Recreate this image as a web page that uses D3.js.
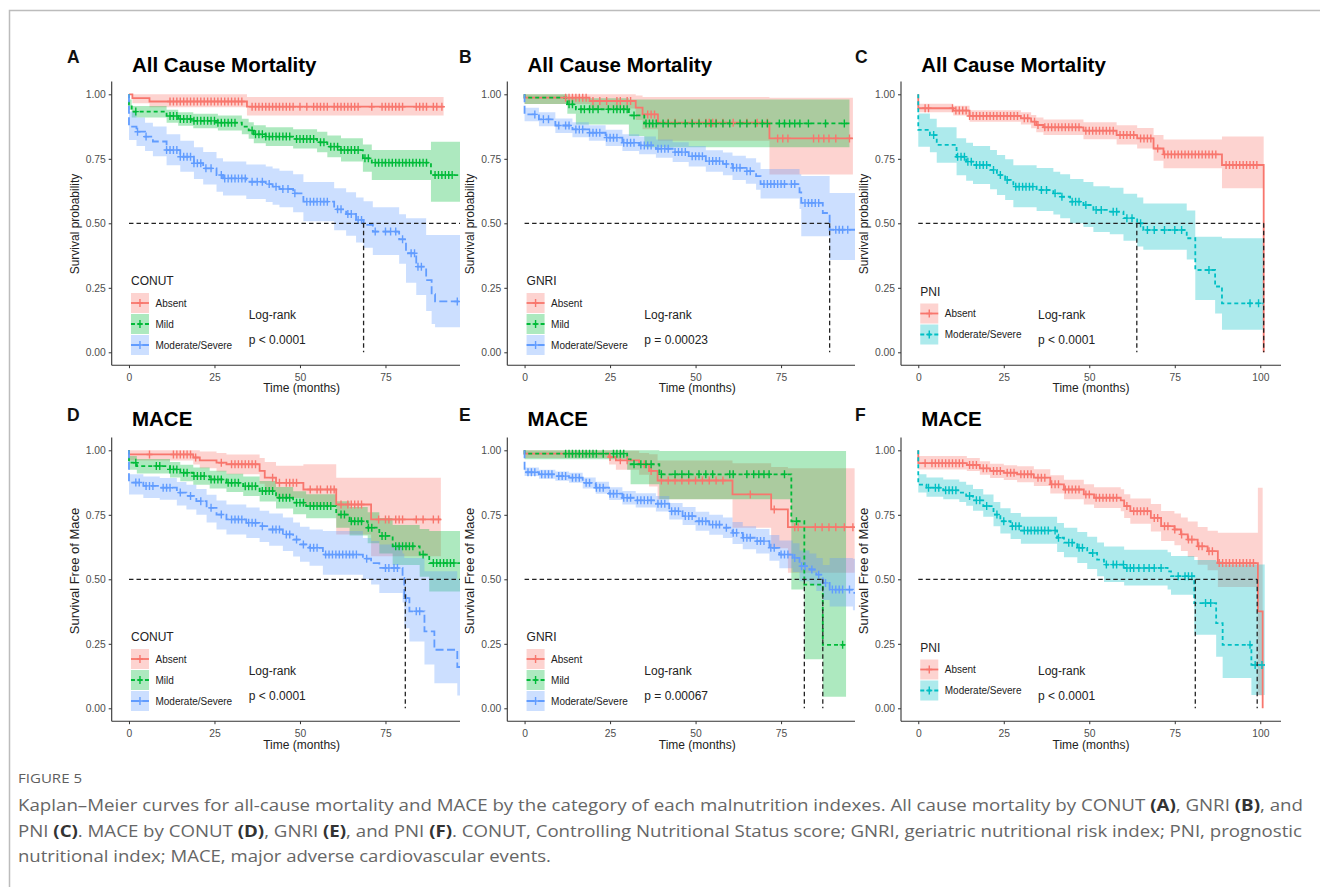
<!DOCTYPE html>
<html><head><meta charset="utf-8">
<script src="https://cdn.jsdelivr.net/npm/d3@7"></script>
<style>body{margin:0;background:#fff}svg{display:block}</style>
</head><body>
<svg id="fig" width="1320" height="887"></svg>
<script>
// ---------- DATA: step points [time, survival, lower CI, upper CI]; last row = end of follow-up ----------
const a_absent = [[0,1,1,1],[1,0.985,0.965,1],[6,0.972,0.95,1],[34.5,0.952,0.918,0.99],[92,0.952,0.918,0.99]];
const a_mild = [[0,1,1,1],[0,0.96,0.94,0.98],[0.8,0.933,0.91,0.955],[11,0.916,0.89,0.94],[14.4,0.904,0.878,0.93],[18.8,0.897,0.868,0.925],[26,0.89,0.86,0.918],[33,0.875,0.845,0.905],[35,0.86,0.828,0.892],[36.5,0.845,0.81,0.88],[40,0.836,0.8,0.872],[48,0.827,0.79,0.865],[55,0.814,0.775,0.855],[58,0.797,0.756,0.84],[62,0.784,0.74,0.83],[68.4,0.752,0.7,0.805],[71,0.735,0.668,0.784],[88.3,0.687,0.584,0.816],[101,0.687,0.584,0.816]];
const a_mod = [[0,1,1,1],[0,0.875,0.823,0.933],[2.2,0.855,0.8,0.91],[4.7,0.836,0.78,0.89],[7,0.817,0.76,0.875],[11,0.784,0.725,0.845],[15,0.758,0.7,0.82],[19,0.733,0.672,0.795],[21.7,0.713,0.65,0.776],[25.6,0.687,0.622,0.752],[27.5,0.674,0.608,0.74],[34.3,0.661,0.594,0.728],[40,0.652,0.583,0.72],[42,0.642,0.572,0.712],[44,0.633,0.562,0.704],[48,0.616,0.543,0.69],[51,0.584,0.508,0.66],[60,0.554,0.473,0.636],[63.5,0.536,0.452,0.62],[66.4,0.513,0.426,0.6],[68.6,0.494,0.405,0.585],[71.3,0.468,0.377,0.562],[79,0.438,0.343,0.535],[81,0.384,0.27,0.52],[84,0.332,0.222,0.52],[86.9,0.28,0.16,0.455],[88.5,0.225,0.11,0.455],[89.5,0.197,0.097,0.455],[101,0.197,0.097,0.455]];
const b_absent = [[0,1,1,1],[0,0.987,0.962,1],[19,0.974,0.945,1],[32.5,0.948,0.9,0.995],[34.5,0.922,0.865,0.99],[39,0.89,0.82,0.99],[71.6,0.829,0.689,0.987],[96,0.829,0.689,0.987]];
const b_mild = [[0,1,1,1],[0,0.987,0.962,1],[12.5,0.961,0.925,0.99],[15,0.942,0.883,0.985],[30.5,0.918,0.838,0.98],[35,0.887,0.795,0.98],[95,0.887,0.795,0.98]];
const b_mod = [[0,1,1,1],[0,0.922,0.896,0.948],[4.2,0.903,0.876,0.93],[9,0.879,0.85,0.906],[14,0.864,0.834,0.892],[18.8,0.851,0.82,0.88],[23.7,0.832,0.8,0.863],[28.6,0.812,0.78,0.845],[33.5,0.802,0.768,0.836],[38.4,0.789,0.754,0.825],[43.3,0.776,0.738,0.814],[48,0.76,0.72,0.8],[53,0.741,0.7,0.783],[58,0.73,0.686,0.774],[60.8,0.715,0.668,0.762],[64.7,0.702,0.653,0.752],[67.7,0.683,0.63,0.736],[69,0.652,0.596,0.71],[80.4,0.62,0.555,0.69],[80.9,0.579,0.45,0.683],[87.2,0.54,0.45,0.683],[89.2,0.475,0.358,0.617],[101,0.475,0.358,0.617]];
const c_absent = [[0,1,1,1],[0,0.946,0.93,0.963],[10.2,0.937,0.918,0.956],[15,0.916,0.894,0.938],[30,0.907,0.883,0.93],[33,0.894,0.868,0.92],[34.5,0.881,0.853,0.91],[36.6,0.872,0.842,0.902],[48.3,0.859,0.826,0.892],[58,0.842,0.805,0.88],[64,0.829,0.79,0.869],[68.8,0.79,0.742,0.842],[71.7,0.767,0.713,0.825],[88.8,0.726,0.636,0.836],[101,0,0,0],[101,0,0,0]];
const c_mod = [[0,1,1,1],[0,0.862,0.797,0.926],[3.4,0.842,0.775,0.905],[5.4,0.804,0.735,0.872],[11.2,0.758,0.686,0.83],[14,0.739,0.665,0.812],[16,0.726,0.652,0.8],[21,0.707,0.632,0.784],[23,0.687,0.61,0.765],[25.4,0.668,0.59,0.748],[27.8,0.642,0.562,0.725],[34.6,0.629,0.548,0.714],[39.5,0.616,0.534,0.7],[41.5,0.603,0.52,0.69],[44.4,0.584,0.5,0.672],[48.3,0.571,0.486,0.66],[51.2,0.552,0.466,0.644],[56,0.545,0.458,0.638],[60,0.52,0.432,0.615],[64,0.5,0.41,0.6],[65.8,0.474,0.397,0.577],[78.5,0.442,0.36,0.55],[81,0.319,0.203,0.448],[86.8,0.255,0.15,0.448],[88.8,0.19,0.087,0.442],[101,0.19,0.087,0.442]];
const d_absent = [[0,1,1,1],[0,0.984,0.96,1],[18.8,0.972,0.945,1],[20.7,0.961,0.93,0.995],[25.6,0.952,0.918,0.99],[28.5,0.946,0.907,0.984],[38.2,0.92,0.87,0.97],[39.7,0.894,0.84,0.955],[43,0.874,0.815,0.94],[51,0.848,0.784,0.946],[60.6,0.79,0.674,0.894],[70.8,0.732,0.589,0.894],[91.2,0.732,0.589,0.894]];
const d_mild = [[0,1,1,1],[0,0.952,0.925,0.978],[2.3,0.939,0.91,0.966],[12,0.926,0.895,0.955],[15,0.913,0.88,0.944],[18.8,0.9,0.866,0.933],[23.6,0.887,0.852,0.921],[28.5,0.874,0.838,0.909],[33.4,0.861,0.823,0.898],[38.2,0.842,0.802,0.881],[43,0.816,0.774,0.858],[48,0.797,0.752,0.841],[51.8,0.784,0.737,0.83],[60.6,0.751,0.7,0.803],[64.5,0.725,0.67,0.78],[69.8,0.7,0.64,0.76],[73.2,0.668,0.6,0.738],[77.1,0.628,0.555,0.71],[85,0.596,0.51,0.695],[87.8,0.563,0.453,0.687],[101,0.563,0.453,0.687]];
const d_mod = [[0,1,1,1],[0,0.875,0.829,0.907],[4.2,0.862,0.815,0.898],[9,0.855,0.808,0.893],[14,0.836,0.786,0.877],[16.8,0.823,0.771,0.866],[19.7,0.803,0.75,0.85],[22.7,0.777,0.72,0.828],[25.6,0.751,0.693,0.805],[28.5,0.732,0.674,0.79],[34.3,0.719,0.66,0.778],[38.2,0.706,0.645,0.766],[41,0.693,0.63,0.755],[45,0.674,0.61,0.74],[48,0.654,0.588,0.72],[50,0.635,0.568,0.704],[52.8,0.622,0.553,0.693],[56.7,0.596,0.518,0.687],[68.4,0.58,0.5,0.66],[70.8,0.563,0.48,0.648],[73.2,0.544,0.447,0.635],[80,0.505,0.41,0.6],[80.5,0.427,0.31,0.583],[82,0.376,0.259,0.583],[86.4,0.298,0.17,0.531],[89.3,0.227,0.097,0.531],[96,0.16,0.05,0.5],[101,0.16,0.05,0.5]];
const e_absent = [[0,1,1,1],[0,0.987,0.97,1],[24.7,0.974,0.945,1],[26.7,0.961,0.925,0.998],[33.5,0.946,0.905,0.99],[36.4,0.92,0.86,0.985],[38.9,0.883,0.81,0.96],[60.8,0.829,0.7,0.95],[72.1,0.771,0.62,0.935],[77,0.702,0.525,0.93],[96.5,0.702,0.525,0.93]];
const e_mild = [[0,1,1,1],[0,0.987,0.965,1],[30,0.965,0.925,1],[31,0.946,0.868,1],[39.4,0.907,0.81,0.997],[78,0.725,0.46,0.997],[81.8,0.479,0.19,0.997],[87.2,0.246,0.045,0.997],[94,0.246,0.045,0.997]];
const e_mod = [[0,1,1,1],[0,0.915,0.9,0.933],[4.2,0.907,0.89,0.925],[9,0.9,0.882,0.918],[13,0.894,0.874,0.913],[17,0.874,0.852,0.895],[20.8,0.855,0.832,0.878],[24.7,0.832,0.807,0.857],[28.6,0.816,0.79,0.842],[32.5,0.806,0.778,0.834],[38.4,0.793,0.763,0.823],[42.3,0.764,0.732,0.796],[46.2,0.745,0.71,0.78],[50,0.725,0.688,0.762],[54,0.712,0.673,0.75],[58,0.7,0.66,0.74],[60.8,0.68,0.637,0.722],[63.8,0.661,0.616,0.706],[67.7,0.648,0.6,0.695],[71.6,0.622,0.572,0.672],[74.5,0.596,0.543,0.65],[78.4,0.583,0.528,0.64],[80.4,0.551,0.492,0.612],[83.3,0.538,0.477,0.6],[85.3,0.518,0.455,0.583],[87.2,0.486,0.42,0.555],[89.2,0.46,0.395,0.583],[96,0.447,0.38,0.58],[101,0.447,0.38,0.58]];
const f_absent = [[0,1,1,1],[0,0.95,0.926,0.978],[14.2,0.943,0.92,0.97],[18,0.93,0.905,0.958],[21,0.92,0.893,0.948],[25,0.913,0.885,0.942],[28.9,0.907,0.876,0.938],[33.8,0.894,0.862,0.927],[38.6,0.868,0.833,0.903],[42.6,0.848,0.81,0.886],[48.4,0.829,0.79,0.868],[51.4,0.816,0.776,0.857],[59.2,0.806,0.764,0.849],[60.2,0.784,0.738,0.83],[62,0.764,0.715,0.813],[68,0.738,0.685,0.792],[71,0.706,0.648,0.765],[74.9,0.693,0.632,0.755],[76.8,0.674,0.61,0.74],[78.8,0.654,0.586,0.724],[81.7,0.628,0.556,0.703],[84.6,0.609,0.535,0.688],[87.6,0.563,0.47,0.68],[99.3,0.376,0.05,0.855],[100.7,0,0,0],[100.7,0,0,0]];
const f_mod = [[0,1,1,1],[0,0.867,0.836,0.907],[2.4,0.855,0.82,0.895],[7.3,0.845,0.81,0.887],[12,0.836,0.8,0.878],[14,0.823,0.785,0.866],[16,0.806,0.766,0.85],[19,0.784,0.742,0.829],[22,0.751,0.706,0.8],[24,0.725,0.678,0.775],[27,0.706,0.656,0.757],[30,0.689,0.638,0.742],[40.6,0.661,0.606,0.718],[42.6,0.642,0.585,0.7],[46.5,0.622,0.563,0.683],[49.4,0.602,0.54,0.665],[52.3,0.576,0.512,0.643],[54.3,0.557,0.49,0.627],[60.2,0.544,0.476,0.615],[72.9,0.531,0.46,0.605],[73.9,0.512,0.44,0.59],[80.7,0.408,0.285,0.575],[87.1,0.33,0.2,0.57],[89,0.246,0.117,0.557],[97.4,0.168,0.052,0.557],[101.3,0.168,0.052,0.557]];

// censoring times
const a_absent_cens = [12,13,14,15,16,17,18,19,20,21,22,23,24,25,26,27,28,29,30,31,32,33,36,37,38,39,40,41,42,43,44,45,46,47,48,50,52,54,55,56,57,58,60,61,62,63,64,65,66,67,71,74,75,76,77,78,79,80,84,85,86,87,89,90,91.5];
const a_mild_cens = [2,12,13,14,15,16,17,18,19,20,21,22,23,24,25,26,27,28,29,30,31,36,37,38,39,40,41,42,43,44,45,46,47,49,50,51,52,53,54,56,57,59,60,61,62,63,64,65,66,67,69,70,72,73,74,75,76,77,78,79,80,81,82,83,84,85,86,87,89.5,90.5,91.5,92.5,93.5,94.5];
const a_mod_cens = [2.5,5,11,12,13,14,15,16,17,18,19,20,21,22.5,24,27,28,29,30,31,32,33,34,36,37.5,39,41,43,45,46.5,48.5,52,53,54,55,56,57,58,61,62,64,65,67,68,72,75,76.5,78,80,82.5,83.5,84.5,85.5,96];
const b_absent_cens = [12,13,14,15,16,17,18,20,22,24,27,28,30,31,36,37,38,42,44,49,51,53,54,55,56,58,61,65,68,71,74,75.5,77,84.5,86,87.5,89,91,95];
const b_mild_cens = [13,14,16.5,17.5,19,20,21.5,24.5,26,27,28,29,30,32,35.5,36.5,37.5,38.5,40.5,42,44,47,49,51,53,54.5,56,58,60,63,65,67.5,69.5,71,74.5,76,77.5,79,80.5,83,88,93.5];
const b_mod_cens = [3,5.5,7,10,12,13,15,16,17,19,20,21,22,24,25,26,27,29,30,31,32,34,35,36,37,39,40,41,42,44,45,46,47,49,50,51,52,54,55,56,57,59,61,62,63,65,66,70,71,72,73,74,75,76,78,79,82,83,84,85,86,91,92,93,94.5];
const c_absent_cens = [2,3,10,11,12,13,14,15,16,17,18,19,20,21,22,23,24,25,26,27,28,29,31,32,34,35,37,38,39,40,41,42,43,44,45,46,47,49,50,51,52,53,54,55,56,57,59,60,61,62,63,65,66,67,68,70,72,73,74,75,76,77,78,79,80,81,82,83,84,85,86,87,90,91,92,93,94,95,96,97,98,99];
const c_mod_cens = [4.5,11.5,12.5,13.5,14.5,15.5,17,18,19,20,22,24,26,28.5,29.5,30.5,31.5,32.5,33.5,36,37.5,40,42,45,46,47,49,52,53.5,57,58,61,62.5,65,67,69,72,75,77,85,97,99.5];
const d_absent_cens = [6,13,14,15,16,17,18,19.5,27,30,31,32,33,34,35,36,37,42,44,46,47,48,49,53,55,56,58,59,60,62,64,65,66,67,68,73,75,76,78,79,80,84,86,89,90.5];
const d_mild_cens = [2,8,9,12,13,14,16,17,19,20,21,22,24,25,26,27,29,30,31,32,34,35,36,37,39,40,41,42,44,45,46,47,49,50,51,53,54,55,56,57,58,59,62,63,65,66,67,68,70,71,74,75,78,79,80,81,82,83,86,89,90,91,92,93,94,95];
const d_mod_cens = [2,3,5,6,7,10,11,12,15,18,21,24,27,30,31,32,33,35,36,37,39,42,43,44,46,47,49,51,53,54,55,57.5,58.5,59.5,60.5,61.5,62.5,63.5,64.5,65.5,66.5,69.5,75,76,77.5,78.5,81,84,85];
const e_absent_cens = [25,28,30,35,37,40,42,44,46,48,50,52,54,56,58,66,73,79,80,85,87,89,91,93.5,96];
const e_mild_cens = [12,13,14,15,16,17,18,19,20,21,23,26,27,28,29,32,34,35.5,37,40,44,46,48,51,53,55,60,61,65,67,68.5,70,71.5,76,79.5,93];
const e_mod_cens = [1,2,3,5,6,7,8,10,11,12,14,15,16,18,19,21,22,23,25,26,27,29,30,31,33,34,35,36,37,39,40,41,43,44,45,47,48,49,51,52,53,55,56,57,59,61,62,64,65,66,68,69,70,72,73,75,76,77,79,81,82,84,86,88,90,91,92,93,95];
const f_absent_cens = [2,4,5,6,7,8,9,10,11,12,13,15,16,17,19,20,22,23,24,26,27,28,30,31,32,33,35,36,37,39,40,41,43,44,45,46,47,49,50,52,53,54,55,56,57,58,61,63,64,65,66,67,69,70,72,73,75,77,79,80,82,83,85,86,88,89,90,91,92,93,94,95,96,97,98];
const f_mod_cens = [3,5,6,8,9,10,11,15,17,18,20,23,25,27.5,28.5,29.5,31,32,33,34,35,36,37,38,40,41,44,45,47,48,51,55,57,58,60,61,62,63,64.5,66,67.5,69,71,76,78,79,80,84,85.5,97,98.5,100.5];

const panelLetters = ['A','B','C','D','E','F'];
const titles = ['All Cause Mortality','All Cause Mortality','All Cause Mortality','MACE','MACE','MACE'];
const yLabels = ['Survival probability','Survival Free of Mace'];
const indexNames = ['CONUT','GNRI','PNI','CONUT','GNRI','PNI'];
const strata3 = ['Absent','Mild','Moderate/Severe'];
const strata2 = ['Absent','Moderate/Severe'];
const pValues = ['p < 0.0001','p = 0.00023','p < 0.0001','p < 0.0001','p = 0.00067','p < 0.0001'];
const medianTimes = [[68.6],[89.2],[63.9,101],[80.8],[81.8,87.2],[81,99.1]];
const medianLineEnd = [106,89.2,101,106,87.2,99.1];
const xTicks = [0,25,50,75,100];
const yTicks = [0,0.25,0.5,0.75,1];

const curves = [
  [[a_absent,a_absent_cens],[a_mild,a_mild_cens],[a_mod,a_mod_cens]],
  [[b_absent,b_absent_cens],[b_mild,b_mild_cens],[b_mod,b_mod_cens]],
  [[c_absent,c_absent_cens],[c_mod,c_mod_cens]],
  [[d_absent,d_absent_cens],[d_mild,d_mild_cens],[d_mod,d_mod_cens]],
  [[e_absent,e_absent_cens],[e_mild,e_mild_cens],[e_mod,e_mod_cens]],
  [[f_absent,f_absent_cens],[f_mod,f_mod_cens]]
];

// ---------- STYLE / LAYOUT ----------
const FONT = "'Liberation Sans', Arial, Helvetica, sans-serif";
const col3 = ['#F8766D','#00BA38','#619CFF'];
const col2 = ['#F8766D','#00BFC4'];
const dash3 = [null,'4,3','8,3.5'];
const dash2 = [null,'4,3'];
const colX = [111.7, 507.3, 901];
const clipRight = [460, 855, 1281];
const rowY0 = [352.3, 708.3];
const unitY = 258;
const pxPerMonth = 3.42;
const xDomain = [-5.05, 106.05];
const letterX = [67, 459, 855];
const letterY = [62.7, 420.7];
const titleY = [71.7, 425.7];
const timeLabelY = [392, 749];
const yLabelCY = [224, 571];
const legendCY = [315, 671];

const svg = d3.select('#fig');
const defs = svg.append('defs');

// frame
svg.append('path').attr('d','M9.5,887 V10.5 H1320').attr('fill','none').attr('stroke','#bcbcbc').attr('stroke-width',1.5);

function stepVal(data, t){
  let v = data[0][1];
  for (const r of data){ if (r[0] <= t) v = r[1]; else break; }
  return v;
}

curves.forEach((cset, i) => {
  const col = i % 3, row = Math.floor(i / 3);
  const ax = colX[col];
  const x = d3.scaleLinear().domain(xDomain).range([ax, ax + (xDomain[1]-xDomain[0]) * pxPerMonth]);
  const y = d3.scaleLinear().domain([-0.05, 1.05]).range([rowY0[row] + 0.05*unitY, rowY0[row] - 1.05*unitY]);
  const top = y(1.05), bottom = y(-0.05), right = clipRight[col];
  const colors = cset.length === 3 ? col3 : col2;
  const dashes = cset.length === 3 ? dash3 : dash2;
  const names = cset.length === 3 ? strata3 : strata2;

  const cid = 'clip' + i;
  defs.append('clipPath').attr('id', cid).append('rect')
    .attr('x', ax).attr('y', top - 5).attr('width', right - ax).attr('height', bottom - top + 5);
  const g = svg.append('g');
  const pg = g.append('g').attr('clip-path', `url(#${cid})`);

  const area = d3.area().curve(d3.curveStepAfter).x(d => x(d[0])).y0(d => y(d[2])).y1(d => y(d[3]));
  const line = d3.line().curve(d3.curveStepAfter).x(d => x(d[0])).y(d => y(d[1]));

  cset.forEach((c, k) => {
    pg.append('path').attr('d', area(c[0])).attr('fill', colors[k]).attr('fill-opacity', 0.32);
  });
  cset.forEach((c, k) => {
    pg.append('path').attr('d', line(c[0])).attr('fill','none').attr('stroke', colors[k])
      .attr('stroke-width', 1.8).attr('stroke-dasharray', dashes[k]);
  });
  cset.forEach((c, k) => {
    const p = c[1].map(t => { const px = x(t), py = y(stepVal(c[0], t));
      return `M${px},${py-4}V${py+4}M${px-3},${py}H${px+3}`; }).join('');
    pg.append('path').attr('d', p).attr('fill','none').attr('stroke', colors[k]).attr('stroke-width', 1.4);
  });
  // median lines
  const mh = [[0,0.5],[medianLineEnd[i],0.5]];
  pg.append('path').attr('d', d3.line().x(d=>x(d[0])).y(d=>y(d[1]))(mh))
    .attr('stroke','#222').attr('stroke-width',1.3).attr('stroke-dasharray','4.5,3').attr('fill','none');
  medianTimes[i].forEach(m => {
    pg.append('path').attr('d', d3.line().x(d=>x(d[0])).y(d=>y(d[1]))([[m,0.5],[m,0]]))
      .attr('stroke','#222').attr('stroke-width',1.3).attr('stroke-dasharray','4.5,3').attr('fill','none');
  });

  // axes
  const yAxis = g.append('g').attr('transform', `translate(${ax},0)`)
    .call(d3.axisLeft(y).tickValues(yTicks).tickFormat(d3.format('.2f')).tickSize(3).tickSizeOuter(0));
  const xAxis = g.append('g').attr('transform', `translate(0,${bottom})`)
    .call(d3.axisBottom(x).tickValues(xTicks.filter(v => x(v) <= right)).tickSize(3).tickSizeOuter(0));
  [yAxis, xAxis].forEach(a => {
    a.select('.domain').remove();
    a.selectAll('.tick line').attr('stroke','#333');
    a.selectAll('.tick text').attr('fill','#4d4d4d').style('font-family', FONT).style('font-size','10.3px');
  });
  xAxis.selectAll('.tick text').attr('dy','0.95em');
  g.append('line').attr('x1', ax).attr('x2', ax).attr('y1', top).attr('y2', bottom).attr('stroke','#333').attr('stroke-width',1.1);
  g.append('line').attr('x1', ax).attr('x2', right).attr('y1', bottom).attr('y2', bottom).attr('stroke','#333').attr('stroke-width',1.1);

  // axis titles
  g.append('text').attr('x', x(50.5)).attr('y', timeLabelY[row]).attr('text-anchor','middle')
    .style('font-family', FONT).style('font-size','12px').attr('fill','#222').text('Time (months)');
  g.append('text').attr('transform', `translate(${ax-33},${yLabelCY[row]}) rotate(-90)`).attr('text-anchor','middle')
    .style('font-family', FONT).style('font-size', row === 0 ? '12px' : '13px').attr('fill','#222').text(yLabels[row]);

  // panel letter & title
  svg.append('text').attr('x', letterX[col]).attr('y', letterY[row])
    .style('font-family', FONT).style('font-size','17.5px').style('font-weight','bold').attr('fill','#111').text(panelLetters[i]);
  svg.append('text').attr('x', x(0) + 3).attr('y', titleY[row])
    .style('font-family', FONT).style('font-size','20.5px').style('font-weight','bold').attr('fill','#000').text(titles[i]);

  // legend
  const n = names.length;
  const lTop = legendCY[row] - (18 + n*21)/2;
  const lx = x(0) + 2;
  g.append('text').attr('x', lx).attr('y', lTop + 10.5).style('font-family', FONT).style('font-size','12px').attr('fill','#222').text(indexNames[i]);
  names.forEach((nm, k) => {
    const ky = lTop + 18.5 + k*21;
    g.append('rect').attr('x', lx).attr('y', ky).attr('width', 18).attr('height', 20).attr('fill', colors[k]).attr('fill-opacity', 0.32);
    g.append('line').attr('x1', lx).attr('x2', lx+18).attr('y1', ky+10).attr('y2', ky+10)
      .attr('stroke', colors[k]).attr('stroke-width', 1.8).attr('stroke-dasharray', dashes[k]);
    g.append('path').attr('d', `M${lx+9},${ky+6}V${ky+14}M${lx+6},${ky+10}H${lx+12}`)
      .attr('stroke', colors[k]).attr('stroke-width', 1.4).attr('fill','none');
    g.append('text').attr('x', lx + 24.5).attr('y', ky + 13.5).style('font-family', FONT).style('font-size','10px').attr('fill','#222').text(nm);
  });
  g.append('text').attr('x', ax + 137).attr('y', legendCY[row] + 4.3).style('font-family', FONT).style('font-size','12px').attr('fill','#222').text('Log-rank');
  g.append('text').attr('x', ax + 137).attr('y', legendCY[row] + 29.3).style('font-family', FONT).style('font-size','12px').attr('fill','#222').text(pValues[i]);
});

// ---------- CAPTION ----------
const CAPFONT = "'Open Sans', 'Noto Sans', sans-serif";
svg.append('text').attr('x', 18).attr('y', 783).attr('textLength', 64).attr('lengthAdjust','spacingAndGlyphs')
  .style('font-family', CAPFONT).style('font-size','12px').attr('fill','#5f5f5f').text('FIGURE 5');
const captionLines = [
  [['Kaplan\u2013Meier curves for all-cause mortality and MACE by the category of each malnutrition indexes. All cause mortality by CONUT ',0],['(A)',1],[', GNRI ',0],['(B)',1],[', and',0]],
  [['PNI ',0],['(C)',1],['. MACE by CONUT ',0],['(D)',1],[', GNRI ',0],['(E)',1],[', and PNI ',0],['(F)',1],['. CONUT, Controlling Nutritional Status score; GNRI, geriatric nutritional risk index; PNI, prognostic',0]],
  [['nutritional index; MACE, major adverse cardiovascular events.',0]]
];
const capY = [811, 837, 862];
const capW = [1285, 1284, 533];
captionLines.forEach((ln, j) => {
  const t = svg.append('text').attr('x', 18).attr('y', capY[j]).attr('textLength', capW[j]).attr('lengthAdjust','spacingAndGlyphs')
    .style('font-family', CAPFONT).style('font-size','16px').attr('fill','#666');
  ln.forEach(s => t.append('tspan').attr('font-weight', s[1] ? 700 : 400).attr('fill', s[1] ? '#333' : '#666').text(s[0]));
});
</script>
</body></html>
